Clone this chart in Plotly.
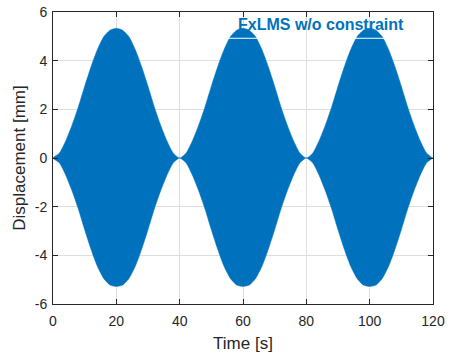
import plotly.graph_objects as go

# Time samples [s]
time_s = [0, 2, 4, 6, 8, 10, 12, 14, 16, 18, 20, 22, 24, 26, 28, 30, 32, 34, 36, 38, 40,
          42, 44, 46, 48, 50, 52, 54, 56, 58, 60, 62, 64, 66, 68, 70, 72, 74, 76, 78, 80,
          82, 84, 86, 88, 90, 92, 94, 96, 98, 100, 102, 104, 106, 108, 110, 112, 114, 116, 118, 120]

# Upper envelope of displacement [mm]
upper_mm = [0.0, 0.2, 0.7, 1.35, 2.1, 2.95, 3.75, 4.45, 4.98, 5.25, 5.33, 5.25, 4.98, 4.45, 3.75, 2.95, 2.1, 1.35, 0.7, 0.2, 0.0,
            0.2, 0.7, 1.35, 2.1, 2.95, 3.75, 4.45, 4.98, 5.25, 5.33, 5.25, 4.98, 4.45, 3.75, 2.95, 2.1, 1.35, 0.7, 0.2, 0.0,
            0.2, 0.7, 1.35, 2.1, 2.95, 3.75, 4.45, 4.98, 5.25, 5.33, 5.25, 4.98, 4.45, 3.75, 2.95, 2.1, 1.35, 0.7, 0.2, 0.0]

# Lower envelope of displacement [mm]
lower_mm = [0.0, -0.2, -0.7, -1.35, -2.1, -2.95, -3.75, -4.45, -4.95, -5.22, -5.28, -5.22, -4.95, -4.45, -3.75, -2.95, -2.1, -1.35, -0.7, -0.2, 0.0,
            -0.2, -0.7, -1.35, -2.1, -2.95, -3.75, -4.45, -4.95, -5.22, -5.28, -5.22, -4.95, -4.45, -3.75, -2.95, -2.1, -1.35, -0.7, -0.2, 0.0,
            -0.2, -0.7, -1.35, -2.1, -2.95, -3.75, -4.45, -4.95, -5.22, -5.28, -5.22, -4.95, -4.45, -3.75, -2.95, -2.1, -1.35, -0.7, -0.2, 0.0]

x_ticks = [0, 20, 40, 60, 80, 100, 120]
y_ticks = [-6, -4, -2, 0, 2, 4, 6]

BLUE = "#0072BD"
AXC = "#262626"
GRID = "#dedede"
FONT = "Liberation Sans, Arial, sans-serif"

fig = go.Figure()
fig.add_trace(go.Scatter(
    x=time_s + time_s[::-1],
    y=upper_mm + lower_mm[::-1],
    fill="toself",
    fillcolor=BLUE,
    line=dict(color=BLUE, width=0.5, shape="spline", smoothing=0.6),
    mode="lines",
    hoverinfo="skip",
    showlegend=False,
))

# thin white line crossing the humps below the label (as in the reference)
for xa, xb in [(54, 66), (94, 106)]:
    fig.add_shape(type="line", xref="x", yref="y", x0=xa, x1=xb, y0=4.92, y1=4.92,
                  line=dict(color="white", width=1), layer="above")

fig.add_annotation(x=84.5, y=5.5, xref="x", yref="y", text="<b>FxLMS w/o constraint</b>",
                   showarrow=False, font=dict(family=FONT, size=16, color=BLUE),
                   xanchor="center", yanchor="middle")

axis_common = dict(
    showline=True, mirror="ticks", linecolor=AXC, linewidth=1,
    ticks="inside", ticklen=5, tickcolor=AXC, tickwidth=1,
    showgrid=True, gridcolor=GRID, gridwidth=1, zeroline=False,
    automargin=False,
    tickfont=dict(family=FONT, size=14, color=AXC),
)

fig.update_xaxes(range=[0, 120], tickvals=x_ticks, ticktext=[str(v) for v in x_ticks],
                 ticklabelstandoff=4,
                 title=dict(text="Time [s]", font=dict(family=FONT, size=17, color=AXC), standoff=9),
                 **axis_common)
fig.update_yaxes(range=[-6, 6], tickvals=y_ticks, ticktext=[str(v) for v in y_ticks],
                 ticklabelstandoff=2,
                 title=dict(text="Displacement [mm]", font=dict(family=FONT, size=17, color=AXC), standoff=4),
                 **axis_common)

fig.update_layout(
    width=455, height=355,
    margin=dict(l=53, r=22, t=12, b=51),
    plot_bgcolor="white", paper_bgcolor="white",
)

fig.write_html("out.html")
